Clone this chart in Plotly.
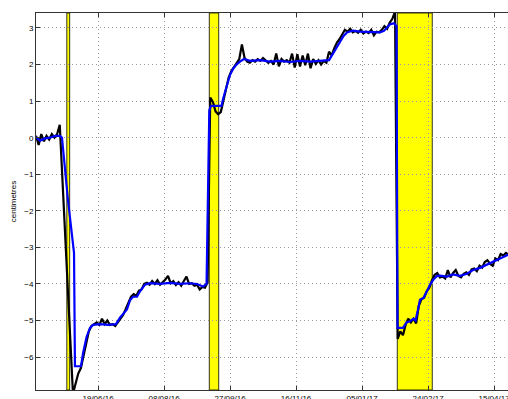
import pandas as pd
import plotly.graph_objects as go

# ---- data ----
start_date = "2016-05-03"
step_days = 2  # sampling interval of the raw (black) series

raw_cm = [
    0.05, -0.2, 0.1, -0.1, 0.05, -0.05, 0.1, 0.0, 0.1, 0.35,
    None, None, None, None, -7.0, -6.7, -6.45, -6.3, -5.95, -5.55,
    -5.3, -5.15, -5.1, -5.05, -5.12, -4.95, -5.1, -5.0, -5.12, -5.1,
    -5.15, -5.05, -4.95, -4.85, -4.68, -4.5, -4.35, -4.28, -4.32, -4.18,
    -4.15, -4.0, -3.97, -4.02, -3.92, -4.0, -3.9, -4.02, -3.95, -3.88,
    -3.78, -3.98, -3.92, -4.03, -3.95, -4.05, -3.92, -3.8, -4.0, -3.98,
    -4.05, -4.02, -4.15, -4.08, -4.1, -3.95, 1.1, 0.98, 0.72, 0.64,
    0.7, 1.05, 1.38, 1.65, 1.82, 1.92, 2.05, 2.15, 2.55, 2.18,
    2.08, 2.05, 2.12, 2.08, 2.15, 2.1, 2.18, 2.12, 2.05, 2.1,
    2.0, 2.3, 1.95, 2.15, 2.08, 2.12, 2.05, 2.3, 1.92, 2.28,
    1.95, 2.25, 1.98, 2.3, 1.9, 2.15, 2.02, 2.12, 2.0, 2.1,
    2.05, 2.35, 2.25, 2.45, 2.6, 2.7, 2.82, 2.95, 2.9, 2.98,
    2.88, 2.92, 2.87, 2.95, 2.85, 2.9, 2.86, 2.95, 2.8, 2.9,
    2.88, 2.95, 3.05, 2.98, 3.15, 3.25, 3.45, -5.5, -5.3, -5.4,
    -5.12, -4.95, -5.05, -4.95, -5.08, -4.6, -4.42, -4.38, -4.2, -4.1,
    -3.9, -3.75, -3.7, -3.82, -3.8, -3.85, -3.62, -3.82, -3.7, -3.62,
    -3.78, -3.82, -3.72, -3.68, -3.75, -3.6, -3.58, -3.65, -3.5, -3.55,
    -3.4, -3.35, -3.45, -3.5, -3.3, -3.35, -3.18, -3.22, -3.15, -3.2,
]

smooth_day = [
    0, 3.0, 6.8, 10.6, 14.4, 18.2, 19.7, 24.2, 28.8, 29.5,
    34.1, 35.6, 38.3, 40.9, 43.2, 48.5, 54.5, 60.6, 63.6, 66.7,
    68.9, 71.2, 73.5, 76.5, 78.8, 82.6, 86.4, 93.9, 101.5, 109.1,
    116.7, 122.0, 126.5, 129.2, 131.3, 132.6, 140.5, 142.0, 144.3, 147.0,
    149.6, 151.9, 154.5, 157.6, 162.1, 169.7, 177.3, 184.8, 192.4, 200.0,
    207.6, 215.2, 222.0, 224.2, 227.7, 230.3, 233.0, 235.6, 240.2, 245.5,
    253.0, 260.6, 263.6, 265.9, 268.2, 271.2, 273.1, 273.9, 278.0, 280.7,
    283.3, 286.0, 287.5, 289.4, 290.9, 293.6, 295.8, 298.5, 301.1, 303.8,
    306.1, 311.4, 315.9, 321.2, 326.5, 331.1, 336.4, 341.7, 346.2, 351.5,
    357.6,
]
smooth_cm = [
    0.02, -0.08, -0.02, 0.0, 0.05, 0.05, 0.0, -1.7, -3.15, -6.25,
    -6.25, -5.9, -5.45, -5.2, -5.12, -5.1, -5.12, -5.1, -4.92, -4.8,
    -4.7, -4.45, -4.35, -4.35, -4.2, -4.02, -3.98, -4.0, -3.97, -4.0,
    -3.98, -4.0, -4.07, -4.0, 0.75, 0.87, 0.87, 1.1, 1.4, 1.72,
    1.9, 2.0, 2.08, 2.15, 2.1, 2.12, 2.08, 2.1, 2.07, 2.1,
    2.08, 2.1, 2.12, 2.25, 2.45, 2.63, 2.78, 2.88, 2.93, 2.9,
    2.88, 2.88, 2.92, 3.0, 3.1, 3.13, 3.05, -5.2, -5.2, -5.05,
    -5.02, -4.95, -5.0, -4.7, -4.43, -4.38, -4.2, -4.02, -3.88, -3.78,
    -3.77, -3.8, -3.74, -3.78, -3.72, -3.62, -3.56, -3.47, -3.38, -3.3,
    -3.2,
]

band_start = ["2016-05-26 08:00", "2016-09-11 07:00", "2017-01-31 17:00"]
band_end = ["2016-05-28 12:00", "2016-09-18 10:00", "2017-02-27 05:00"]

tick_dates = ["2016-06-19", "2016-08-08", "2016-09-27", "2016-11-16",
              "2017-01-05", "2017-02-24", "2017-04-15"]
tick_text = ["19/06/16", "08/08/16", "27/09/16", "16/11/16",
             "05/01/17", "24/02/17", "15/04/17"]
y_ticks = [-6, -5, -4, -3, -2, -1, 0, 1, 2, 3]

x_range = ["2016-05-03", "2017-04-25 14:00"]
y_range = [-6.9, 3.41]

# ---- build ----
t0 = pd.Timestamp(start_date)
raw_dates = pd.date_range(t0, periods=len(raw_cm), freq=f"{step_days}D")
smooth_dates = [t0 + pd.Timedelta(days=d) for d in smooth_day]

fig = go.Figure()

for s, e in zip(band_start, band_end):
    fig.add_shape(type="rect", xref="x", yref="paper", x0=s, x1=e, y0=0, y1=1,
                  fillcolor="#ffff00", line=dict(color="black", width=0.8),
                  layer="below")

fig.add_trace(go.Scatter(x=raw_dates, y=raw_cm, mode="lines", connectgaps=True,
                         line=dict(color="black", width=2.2), showlegend=False))
fig.add_trace(go.Scatter(x=smooth_dates, y=smooth_cm, mode="lines",
                         line=dict(color="#0000ff", width=2.2), showlegend=False))

axis_font = dict(family="Liberation Sans, Arial, sans-serif", size=8, color="black")
grid_dash = "1px,3px"

fig.update_layout(
    width=508, height=399,
    autosize=False,
    margin=dict(l=36, r=0, t=13, b=9, pad=0, autoexpand=False),
    paper_bgcolor="white", plot_bgcolor="white",
    font=axis_font,
    xaxis=dict(range=x_range, tickvals=tick_dates, ticktext=tick_text,
               automargin=False, ticklabeloverflow="allow",
               showgrid=True, gridcolor="#9a9a9a", griddash=grid_dash, gridwidth=1,
               showline=True, linecolor="#333333", linewidth=1, mirror="ticks",
               ticks="inside", ticklen=4, tickcolor="#333333",
               zeroline=False, tickfont=axis_font),
    yaxis=dict(range=y_range, tickvals=y_ticks,
               automargin=False,
               showgrid=True, gridcolor="#9a9a9a", griddash=grid_dash, gridwidth=1,
               showline=True, linecolor="#333333", linewidth=1, mirror=False,
               ticks="inside", ticklen=4, tickcolor="#333333",
               zeroline=False, tickfont=axis_font,
               title=dict(text="centimetres", font=axis_font, standoff=6)),
)

fig.write_html(
    "out.html",
    config={"displayModeBar": False},
    post_script="document.body.style.margin='0';document.body.style.overflow='hidden';",
)
